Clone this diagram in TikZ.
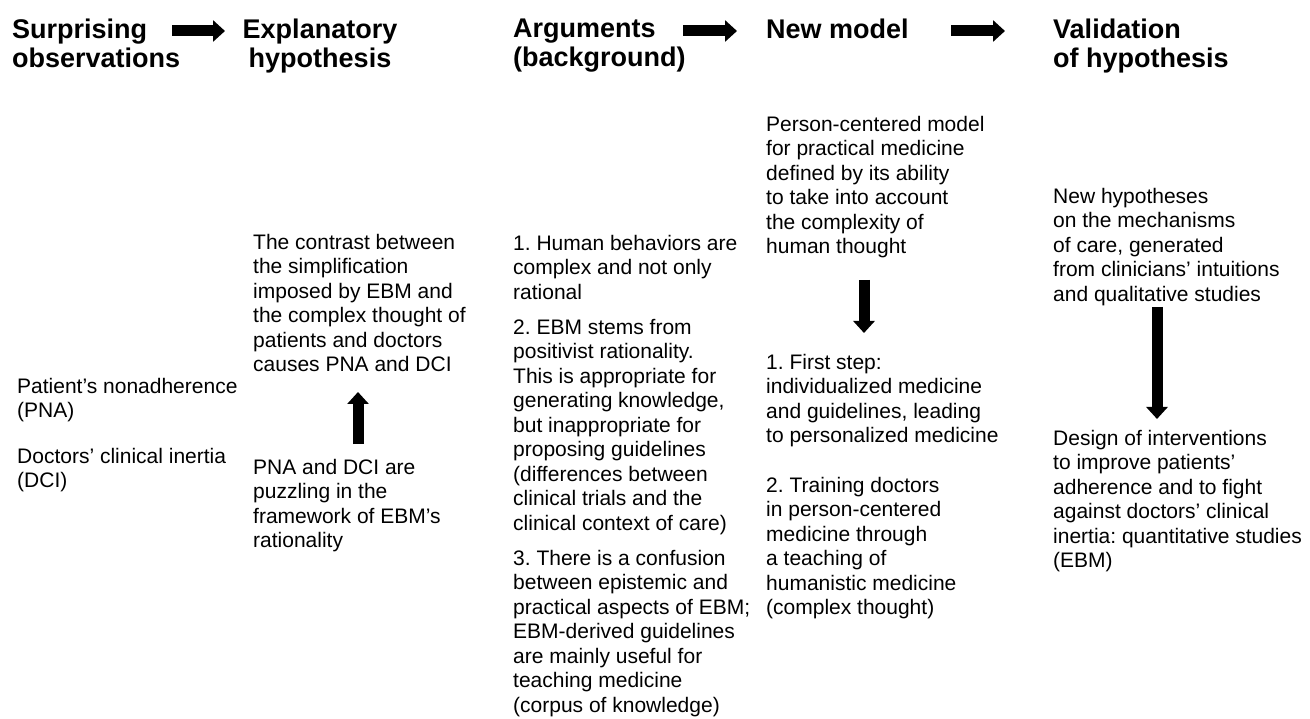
\documentclass[tikz,border=0pt]{standalone}
\usepackage{fontspec}
\setmainfont{Liberation Sans}
\usetikzlibrary{arrows.meta}
\frenchspacing
\begin{document}
\begin{tikzpicture}[x=1pt,y=-1pt,
  body/.style={anchor=north west, inner sep=0pt, align=left, font=\fontsize{21}{24.5}\selectfont\frenchspacing},
  head/.style={anchor=north west, inner sep=0pt, align=left, font=\fontsize{27}{28.5}\selectfont\bfseries},
  blockarrow/.style={line width=11pt, -{Triangle[length=12pt,width=21pt]}},
]
\useasboundingbox (0,0) rectangle (1310,719);

% headings
\node[head] (h1) at (12,19) {Surprising\\observations};
\node[head, anchor=north, align=center] (h2) at (320,19) {Explanatory\\hypothesis};
\node[head] (h3) at (513,19) {Arguments\\(background)};
\node[head] (h4) at (766,19) {New model};
\node[head] (h5) at (1053,19) {Validation\\of hypothesis};

\coordinate (a1s) at (172,31); \coordinate (a1e) at (225,31);
\coordinate (a2s) at (683,31); \coordinate (a2e) at (737,31);
\coordinate (a3s) at (951,31); \coordinate (a3e) at (1005,31);
\draw[blockarrow] (a1s) -- (a1e);
\draw[blockarrow] (a2s) -- (a2e);
\draw[blockarrow] (a3s) -- (a3e);

% column 1
\node[body] (c1a) at (17,378) {Patient’s nonadherence\\(PNA)};
\node[body] (c1b) at (17,448) {Doctors’ clinical inertia\\(DCI)};

% column 2
\node[body] (c2a) at (253,234) {The contrast between\\the simplification\\imposed by EBM and\\the complex thought of\\patients and doctors\\causes PNA and DCI};
\node[body] (c2b) at (253,459) {PNA and DCI are\\puzzling in the\\framework of EBM’s\\rationality};
\coordinate (u1s) at (358,444); \coordinate (u1e) at (358,392);
\draw[blockarrow] (u1s) -- (u1e);

% column 3
\node[body] (c3a) at (513,235) {1. Human behaviors are\\complex and not only\\rational};
\node[body] (c3b) at (513,319) {2. EBM stems from\\positivist rationality.\\This is appropriate for\\generating knowledge,\\but inappropriate for\\proposing guidelines\\(differences between\\clinical trials and the\\clinical context of care)};
\node[body] (c3c) at (513,550) {3. There is a confusion\\between epistemic and\\practical aspects of EBM;\\EBM-derived guidelines\\are mainly useful for\\teaching medicine\\(corpus of knowledge)};

% column 4
\node[body] (c4a) at (766,116) {Person-centered model\\for practical medicine\\defined by its ability\\to take into account\\the complexity of\\human thought};
\node[body] (c4b) at (766,354) {1. First step:\\individualized medicine\\and guidelines, leading\\to personalized medicine};
\node[body] (c4c) at (766,477) {2. Training doctors\\in person-centered\\medicine through\\a teaching of\\humanistic medicine\\(complex thought)};
\coordinate (d1s) at (864,280); \coordinate (d1e) at (864,333);
\draw[blockarrow] (d1s) -- (d1e);

% column 5
\node[body] (c5a) at (1053,188) {New hypotheses\\on the mechanisms\\of care, generated\\from clinicians’ intuitions\\and qualitative studies};
\node[body] (c5b) at (1053,430) {Design of interventions\\to improve patients’\\adherence and to fight\\against doctors’ clinical\\inertia: quantitative studies\\(EBM)};
\coordinate (d2s) at (1157,307); \coordinate (d2e) at (1157,419);
\draw[blockarrow] (d2s) -- (d2e);
\end{tikzpicture}
\end{document}
